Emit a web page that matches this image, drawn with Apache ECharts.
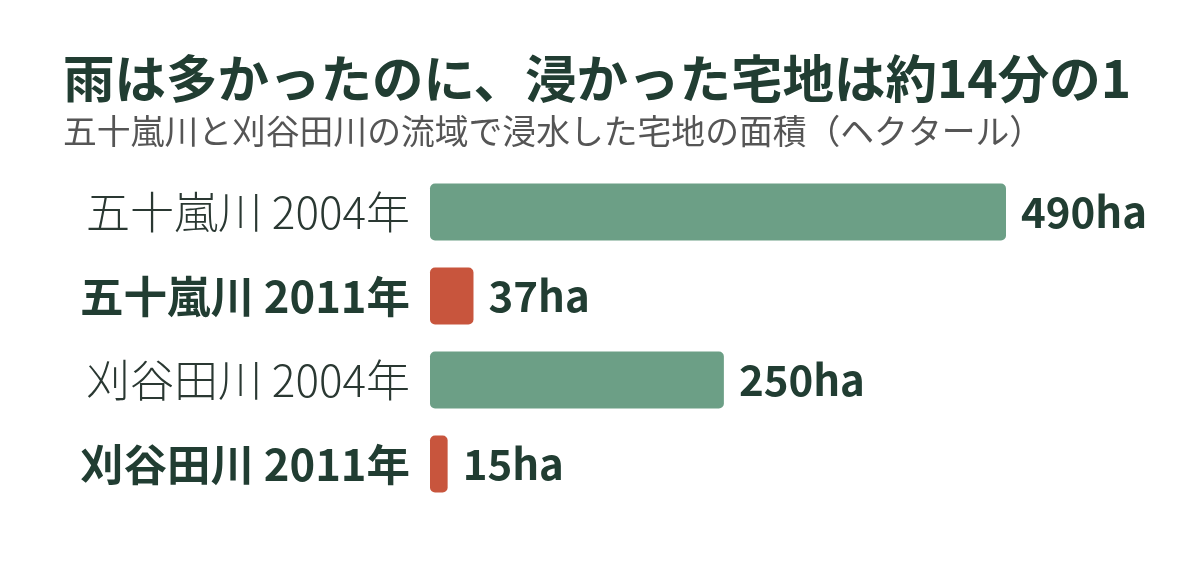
<!DOCTYPE html>
<html style="height: 100%">
    <head>
        <meta charset="utf-8">
        <title>雨は多かったのに、浸かった宅地は約14分の1</title>
        <script src="https://cdn.jsdelivr.net/npm/echarts@6/dist/echarts.min.js"></script>
    </head>
    <body style="height: 100%; margin: 0; background: #fff">
        <div id="container" style="width: 1200px; height: 570px"></div>
        <script type="text/javascript">
// 流域・年ごとの浸水宅地面積（ha）
var categories = ['五十嵐川 2004年', '五十嵐川 2011年', '刈谷田川 2004年', '刈谷田川 2011年'];
var years = ['2004', '2011', '2004', '2011'];
var areas = [490, 37, 250, 15];

var green = '#6c9f86', red = '#c8553d', ink = '#213d32';
var font = '"Noto Sans CJK JP", "Noto Sans", sans-serif';

var dom = document.getElementById('container');
var myChart = echarts.init(dom, null, { renderer: 'canvas' });

var option = {
  backgroundColor: '#fff',
  animation: false,
  title: {
    text: '雨は多かったのに、浸かった宅地は約14分の1',
    subtext: '五十嵐川と刈谷田川の流域で浸水した宅地の面積（ヘクタール）',
    left: 58,
    top: 48,
    itemGap: 10,
    textStyle: { fontFamily: font, fontSize: 51.5, fontWeight: 'bold', color: ink },
    subtextStyle: { fontFamily: font, fontSize: 33.8, color: '#555' }
  },
  grid: {
    left: 430,
    right: 194,
    top: 170,
    height: 336,
    containLabel: false
  },
  xAxis: {
    type: 'value',
    min: 0,
    max: 490,
    show: false
  },
  yAxis: {
    type: 'category',
    inverse: true,
    data: categories,
    axisLine: { show: false },
    axisTick: { show: false },
    axisLabel: {
      margin: 20,
      fontFamily: font,
      formatter: function (v, i) {
        return years[i] === '2011' ? '{b|' + v + '}' : '{n|' + v + '}';
      },
      rich: {
        n: { fontFamily: font, fontSize: 44, fontWeight: 300, color: '#2a3832' },
        b: { fontFamily: font, fontSize: 43.5, fontWeight: 'bold', color: ink }
      }
    }
  },
  series: [
    {
      type: 'bar',
      barWidth: 57,
      data: areas.map(function (v, i) {
        return {
          value: v,
          itemStyle: { color: years[i] === '2011' ? red : green, borderRadius: 5 }
        };
      }),
      label: {
        show: true,
        position: 'right',
        distance: 15,
        formatter: '{c}ha',
        fontFamily: font,
        fontSize: 42,
        fontWeight: 'bold',
        color: ink
      }
    }
  ]
};

myChart.setOption(option);
        </script>
    </body>
</html>
